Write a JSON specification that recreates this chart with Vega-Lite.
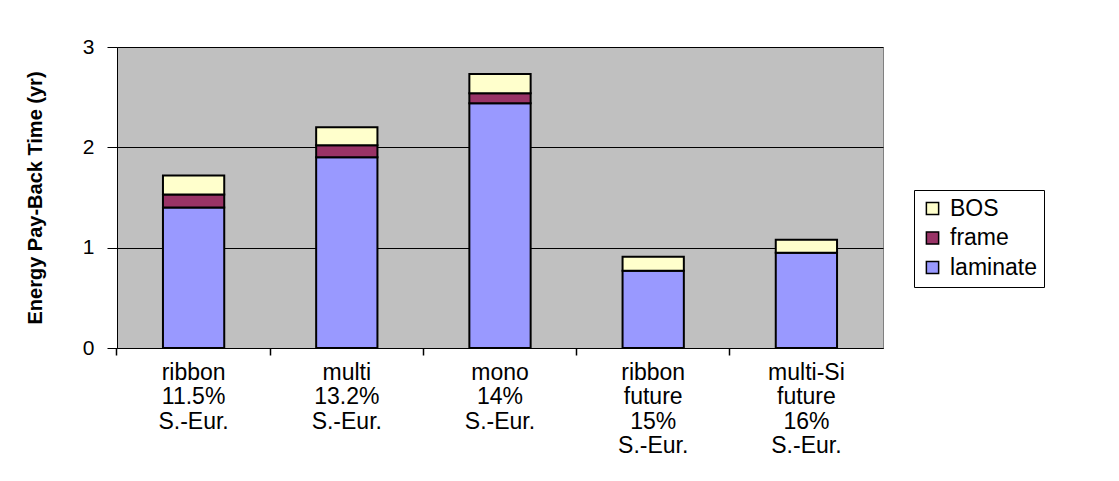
{
  "$schema": "https://vega.github.io/schema/vega-lite/v6.json",
  "autosize": {"type": "none"},
  "padding": {"left": 117, "top": 47, "right": 236, "bottom": 133},
  "width": 766,
  "height": 301,
  "background": "white",
  "config": {
    "font": "Liberation Sans",
    "view": {"fill": "#C0C0C0", "stroke": "#808080", "strokeWidth": 1}
  },
  "data": {
    "values": [
      {"category": "ribbon|11.5%|S.-Eur.", "component": "laminate", "years": 1.40},
      {"category": "ribbon|11.5%|S.-Eur.", "component": "frame", "years": 0.13},
      {"category": "ribbon|11.5%|S.-Eur.", "component": "BOS", "years": 0.19},
      {"category": "multi|13.2%|S.-Eur.", "component": "laminate", "years": 1.90},
      {"category": "multi|13.2%|S.-Eur.", "component": "frame", "years": 0.12},
      {"category": "multi|13.2%|S.-Eur.", "component": "BOS", "years": 0.18},
      {"category": "mono|14%|S.-Eur.", "component": "laminate", "years": 2.44},
      {"category": "mono|14%|S.-Eur.", "component": "frame", "years": 0.10},
      {"category": "mono|14%|S.-Eur.", "component": "BOS", "years": 0.19},
      {"category": "ribbon|future|15%|S.-Eur.", "component": "laminate", "years": 0.77},
      {"category": "ribbon|future|15%|S.-Eur.", "component": "BOS", "years": 0.14},
      {"category": "multi-Si|future|16%|S.-Eur.", "component": "laminate", "years": 0.95},
      {"category": "multi-Si|future|16%|S.-Eur.", "component": "BOS", "years": 0.13}
    ]
  },
  "resolve": {"axis": {"x": "independent"}},
  "layer": [
    {
      "mark": {"type": "bar", "stroke": "black", "strokeWidth": 2},
      "encoding": {
        "x": {
          "field": "category",
          "type": "nominal",
          "sort": null,
          "scale": {"paddingInner": 0.6, "paddingOuter": 0.3},
          "axis": {
            "orient": "bottom",
            "title": null,
            "labelAngle": 0,
            "labelExpr": "split(datum.value, '|')",
            "labelFontSize": 23,
            "labelLineHeight": 24.5,
            "labelColor": "black",
            "labelPadding": 13,
            "ticks": false,
            "domain": true,
            "domainColor": "black",
            "domainWidth": 1,
            "labelBaseline": "top"
          }
        },
        "y": {
          "field": "years",
          "type": "quantitative",
          "aggregate": "sum",
          "stack": "zero",
          "scale": {"domain": [0, 3], "nice": false},
          "axis": {
            "title": "Energy Pay-Back Time (yr)",
            "titleFontSize": 20,
            "titleFontWeight": "bold",
            "titleColor": "black",
            "titlePadding": 37,
            "values": [0, 1, 2, 3],
            "format": "d",
            "labelFontSize": 21,
            "labelColor": "black",
            "labelPadding": 13,
            "tickSize": 10,
            "tickColor": "black",
            "domainColor": "black",
            "grid": true,
            "gridColor": "black",
            "gridWidth": 1
          }
        },
        "color": {
          "field": "component",
          "type": "nominal",
          "scale": {"domain": ["BOS", "frame", "laminate"], "range": ["#FFFFCC", "#993366", "#9999FF"]},
          "legend": {
            "title": null,
            "orient": "none",
            "legendX": 797,
            "legendY": 143,
            "symbolType": "square",
            "symbolSize": 150,
            "symbolStrokeColor": "black",
            "symbolStrokeWidth": 1.5,
            "symbolOpacity": 1,
            "labelFontSize": 23,
            "labelColor": "black",
            "labelOffset": 6,
            "rowPadding": 5.5,
            "padding": 7,
            "strokeColor": "black",
            "fillColor": "white",
            "labelLimit": 300
          }
        },
        "order": {"field": "component", "sort": "descending"}
      }
    },
    {
      "mark": {"type": "tick", "opacity": 0},
      "encoding": {
        "x": {
          "field": "category",
          "type": "nominal",
          "sort": null,
          "axis": {
            "orient": "bottom",
            "title": null,
            "labels": false,
            "bandPosition": -0.75,
            "ticks": true,
            "tickSize": 7,
            "tickWidth": 1.5,
            "tickColor": "black",
            "domain": false,
            "grid": false
          }
        }
      }
    }
  ]
}
